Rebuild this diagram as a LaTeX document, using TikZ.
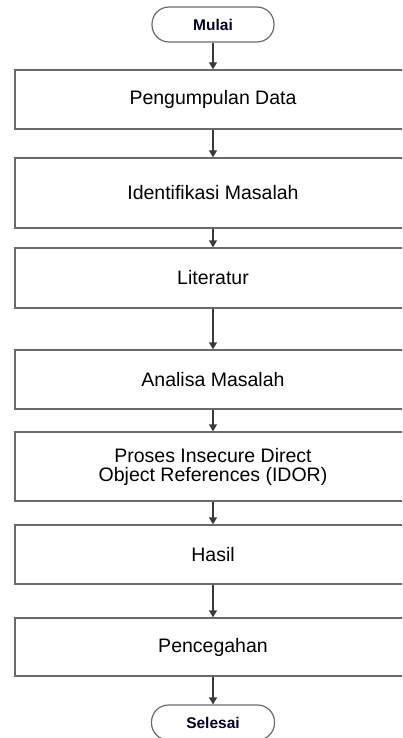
\documentclass[tikz,border=0pt]{standalone}
\usepackage{fontspec}
\setmainfont{Liberation Sans}
\usetikzlibrary{arrows.meta}
\definecolor{boxline}{HTML}{6A6A6A}
\definecolor{arrline}{HTML}{3A3A3A}
\tikzset{
  stepbox/.style={draw=boxline, line width=1.4pt, rectangle, minimum width=396pt, inner sep=0pt,
    font=\fontsize{19.5pt}{20pt}\selectfont, text=black, align=center},
  term/.style={draw=boxline, line width=1.2pt, rectangle, rounded corners=17pt, minimum width=122pt,
    minimum height=35pt, inner sep=0pt, font=\fontsize{15.5pt}{17pt}\selectfont\bfseries, text=black!85!blue},
  flow/.style={draw=arrline, line width=1.4pt, -{Triangle[length=7pt,width=8pt]}}
}
\begin{document}
\begin{tikzpicture}[x=1pt,y=-1pt]
\useasboundingbox (0,0) rectangle (402,738);
\clip (0,0) rectangle (402,738);
\node[term] (mulai) at (213,24.5) {Mulai};
\node[stepbox, minimum height=59pt] (b1) at (213,99.5) {Pengumpulan Data};
\node[stepbox, minimum height=70pt] (b2) at (213,193) {Identifikasi Masalah};
\node[stepbox, minimum height=60pt] (b3) at (213,278) {Literatur};
\node[stepbox, minimum height=59pt] (b4) at (213,379.5) {Analisa Masalah};
\node[stepbox, minimum height=69pt] (b5) at (213,466.5) {Proses Insecure Direct\\[-1pt]Object References (IDOR)};
\node[stepbox, minimum height=59pt] (b6) at (213,554.5) {Hasil};
\node[stepbox, minimum height=58pt] (b7) at (213,647) {Pencegahan};
\node[term, minimum width=123pt] (selesai) at (213,722.5) {Selesai};
\draw[flow] (mulai.south) -- (b1.north);
\draw[flow] (b1.south) -- (b2.north);
\draw[flow] (b2.south) -- (b3.north);
\draw[flow] (b3.south) -- (b4.north);
\draw[flow] (b4.south) -- (b5.north);
\draw[flow] (b5.south) -- (b6.north);
\draw[flow] (b6.south) -- (b7.north);
\draw[flow] (b7.south) -- (selesai.north);
\end{tikzpicture}
\end{document}
